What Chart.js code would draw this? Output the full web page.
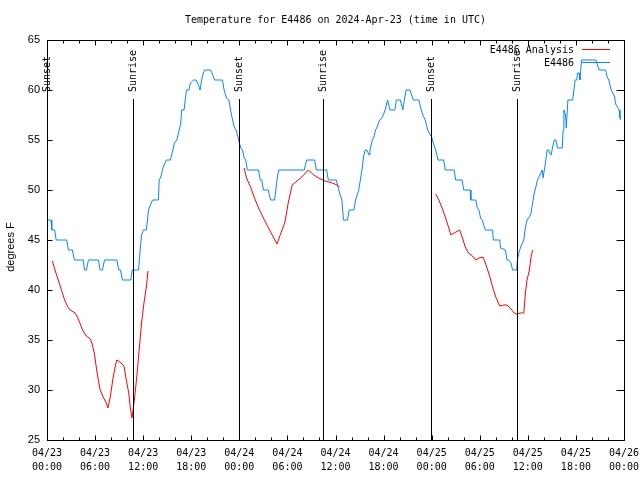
<!DOCTYPE html>
<html><head><meta charset="utf-8">
<script src="https://cdn.jsdelivr.net/npm/chart.js@4"></script>
<style>html,body{margin:0;padding:0;background:#fff}</style>
</head><body>
<canvas id="c" width="640" height="480"></canvas>
<script>
const titleText = "Temperature for E4486 on 2024-Apr-23 (time in UTC)";
const yTitle = "degrees F";
const tickDays = ["04/23","04/23","04/23","04/23","04/24","04/24","04/24","04/24","04/25","04/25","04/25","04/25","04/26"];
const tickTimes = ["00:00","06:00","12:00","18:00","00:00","06:00","12:00","18:00","00:00","06:00","12:00","18:00","00:00"];
const seriesNames = ["E4486 Analysis", "E4486"];

// hours since 04/23 00:00 UTC
const obsHours = [0,0.5,0.6,0.95,1.15,2.46,2.67,3.17,3.42,4.54,4.67,4.92,5.17,6.42,6.63,6.92,7.17,8.71,8.96,9.17,9.42,10.46,10.63,11.42,11.63,11.8,12.04,12.4,12.54,12.67,12.9,13.17,13.9,14.0,14.2,14.5,14.9,15.4,15.7,15.9,16.2,16.5,16.7,16.8,17.1,17.4,17.7,17.9,18.3,18.6,18.9,19.1,19.3,19.5,19.7,20.4,20.6,20.9,21.9,22.1,22.4,22.7,22.9,23.1,23.4,23.6,23.8,24.0,24.2,24.4,24.6,24.8,25.0,26.4,26.6,26.8,27.0,27.6,27.9,28.4,28.7,28.9,32.1,32.4,33.4,33.6,34.9,35.1,36.1,36.4,36.6,36.8,37.0,37.5,37.7,38.3,38.5,38.9,39.1,39.3,39.5,39.7,39.9,40.2,40.3,40.6,40.8,41.0,41.2,41.5,41.8,42.2,42.5,42.8,43.4,43.6,44.1,44.4,44.8,45.3,45.7,46.4,46.7,46.9,47.2,47.5,47.7,48.0,48.1,48.4,48.5,48.8,49.5,49.7,50.8,51.0,51.8,52.0,52.8,52.9,53.5,53.7,53.9,54.1,54.3,54.5,54.7,55.6,55.7,56.5,56.6,57.2,57.4,57.6,57.9,58.1,58.6,58.7,58.9,59.2,59.5,59.7,59.9,60.2,60.4,60.6,60.8,61.0,61.2,61.5,61.8,61.9,62.2,62.4,62.6,62.7,62.9,63.1,63.3,63.5,63.7,64.3,64.4,64.5,64.7,64.8,65.0,65.6,65.7,65.9,66.1,66.2,66.4,66.5,66.7,68.5,68.6,68.9,69.7,69.9,70.1,70.4,70.6,70.8,71.0,71.2,71.4,71.5,71.6];
const obsTemps = [47,47,46,46,45,45,44,44,43,43,42,42,43,43,42,42,43,43,42,42,41,41,42,42,44,45.5,46,46,47,48,48.5,49,49,51,51.3,52.3,53,53,54,54.7,55,56,56.7,58,58,60,60,60.7,61,61,60.5,60,61,61.7,62,62,61.7,61,61,60,59.2,59,58,57.2,56.2,56,55.4,54.7,54.2,54,53.2,53,52,52,51,51,50,50,49,49,51,52,52,53,53,52,52,51,51,50,49.5,49,47,47,48,48,49,50,51,52,53.3,54,54,53.5,54,55,55.3,56,56.3,57,57.2,58,59,58,58,59,59,58,60,60,59,59,58,57.5,57,56,55.7,55.3,55,54.2,54,53,53,52,52,51,51,50,50,49,49,48.2,48,47.2,47,46.5,46,46,45,45,44.2,44,43,43,42.7,42,42,43,43.8,44.5,45,46.3,47,47.3,47.7,48.7,49.7,50.3,51,51.5,52,51.2,52.7,54,54,53.7,53.5,54.3,55,55,54.2,54.2,56,58,57.5,56.2,59,59,59.7,61,61,61.7,61.7,61,63,63,62.7,62,62,61.3,61,60,59.7,59.4,58.5,58.3,58,57.2,57];

const anaHours = [0.67,1.0,1.4,1.8,2.2,2.6,2.9,3.5,3.8,4.1,4.5,4.9,5.4,5.6,5.9,6.2,6.6,7.0,7.4,7.6,7.9,8.2,8.5,8.7,9.1,9.6,9.9,10.2,10.4,10.6,10.9,11.2,11.5,11.8,12.1,12.4,12.6,
  18.0,
  24.6,24.9,25.4,25.8,26.4,27.0,27.9,28.7,29.1,29.7,30.1,30.6,31.2,31.8,32.6,33.3,33.9,34.7,35.6,36.2,36.5,
  42.0,
  48.5,48.9,49.3,49.7,50.1,50.4,50.8,51.5,51.8,52.2,52.6,53.1,53.5,53.9,54.4,54.7,55.2,55.6,56.0,56.5,57.0,57.4,57.8,58.3,58.6,59.1,59.5,59.7,59.9,60.2,60.4,60.6];
const anaTemps = [42.9,42,41,40,39,38.3,38,37.7,37.3,36.7,35.9,35.4,35.1,34.7,33.7,32,30.1,29.3,28.7,28.2,29.3,31,32.3,33,32.8,32.4,31,29.7,28.2,27.2,29,31.3,34,36.7,38.7,40.3,41.9,
  null,
  52.2,51.2,50.3,49.4,48.2,47.2,45.8,44.6,45.5,46.8,48.7,50.5,50.9,51.3,52,51.5,51.2,50.9,50.7,50.5,50.3,
  null,
  49.6,49,48.2,47.3,46.3,45.5,45.7,46,45.3,44.3,43.7,43.4,43,43.2,43.3,42.7,41.5,40.3,39.3,38.4,38.5,38.5,38.2,37.7,37.6,37.7,37.7,39.7,41,42,43.3,44];

const sunHours = [0, 10.67, 23.9, 34.5, 47.96, 58.6];
const sunLabels = ["Sunset","Sunrise","Sunset","Sunrise","Sunset","Sunrise"];

const colors = ["#ff0000", "#0a84ff"];
const MONO = '"DejaVu Sans Mono", monospace';
const SANS = '"Liberation Sans", Arial, sans-serif';

const decor = {
  id: 'decor',
  afterDatasetsDraw(chart) {
    const {ctx, chartArea: a, scales: {x, y}} = chart;
    ctx.save();
    ctx.strokeStyle = '#000';
    ctx.fillStyle = '#000';
    ctx.lineWidth = 1;
    const L = Math.round(a.left) + 0.5, R = Math.round(a.right) + 0.5;
    const T = Math.round(a.top) + 0.5, B = Math.round(a.bottom) + 0.5;
    // title centred over the plot area
    ctx.font = '10px ' + MONO;
    ctx.textAlign = 'center'; ctx.textBaseline = 'middle';
    ctx.fillText(titleText, (a.left + a.right) / 2, 20);
    // sunrise / sunset markers
    sunHours.forEach((h, i) => {
      const px = Math.round(x.getPixelForValue(h)) + 0.5;
      ctx.beginPath(); ctx.moveTo(px, 99); ctx.lineTo(px, B); ctx.stroke();
      ctx.save();
      ctx.translate(px, 92);
      ctx.rotate(-Math.PI / 2);
      ctx.textAlign = 'left'; ctx.textBaseline = 'middle';
      ctx.fillText(sunLabels[i], 0, 0);
      ctx.restore();
    });
    // frame
    ctx.beginPath();
    ctx.rect(L, T, R - L, B - T);
    ctx.stroke();
    // x tick marks (inward, mirrored)
    ctx.beginPath();
    for (let h = 0; h <= 72; h += 2) {
      const px = Math.round(x.getPixelForValue(h)) + 0.5;
      const len = (h % 6 === 0) ? 5 : 3;
      ctx.moveTo(px, B); ctx.lineTo(px, B - len);
      ctx.moveTo(px, T); ctx.lineTo(px, T + len);
    }
    // y tick marks
    y.ticks.forEach(t => {
      const py = Math.round(y.getPixelForValue(t.value)) + 0.5;
      ctx.moveTo(L, py); ctx.lineTo(L + 5, py);
      ctx.moveTo(R, py); ctx.lineTo(R - 8, py);
    });
    ctx.stroke();
    // legend (top right, inside)
    ctx.font = '10px ' + MONO;
    ctx.textAlign = 'right'; ctx.textBaseline = 'middle';
    chart.data.datasets.forEach((ds, i) => {
      const ly = 50 + i * 13;
      ctx.fillStyle = '#000';
      ctx.fillText(ds.label, 574, ly);
      ctx.strokeStyle = ds.borderColor;
      ctx.beginPath(); ctx.moveTo(582, ly - 0.5); ctx.lineTo(610, ly - 0.5); ctx.stroke();
    });
    // y axis title
    ctx.fillStyle = '#000';
    ctx.font = '11px ' + SANS;
    ctx.save();
    ctx.translate(11, 247);
    ctx.rotate(-Math.PI / 2);
    ctx.textAlign = 'center'; ctx.textBaseline = 'middle';
    ctx.fillText(yTitle, 0, 0);
    ctx.restore();
    ctx.restore();
  }
};

new Chart(document.getElementById('c'), {
  type: 'line',
  data: {
    datasets: [
      { label: seriesNames[0], data: anaHours.map((h, i) => ({x: h, y: anaTemps[i]})),
        borderColor: colors[0], borderWidth: 1, pointRadius: 0, tension: 0, spanGaps: false, fill: false },
      { label: seriesNames[1], data: obsHours.map((h, i) => ({x: h, y: obsTemps[i]})),
        borderColor: colors[1], borderWidth: 1, pointRadius: 0, tension: 0, spanGaps: false, fill: false }
    ]
  },
  options: {
    responsive: false,
    animation: false,
    devicePixelRatio: 1,
    layout: { padding: { left: 0, right: 16, top: 40, bottom: 0 } },
    plugins: {
      legend: { display: false },
      tooltip: { enabled: false },
      title: { display: false }
    },
    scales: {
      x: {
        type: 'linear', min: 0, max: 72,
        grid: { display: false, drawTicks: false },
        border: { display: false },
        ticks: {
          stepSize: 2, autoSkip: false, maxRotation: 0, minRotation: 0,
          color: '#000', padding: 6,
          font: { family: MONO, size: 10, lineHeight: 1.4 },
          callback: (v) => (v % 6 === 0) ? [tickDays[v / 6], tickTimes[v / 6]] : ''
        },
        afterFit: (s) => { s.height = 40; s.paddingRight = 0; s.paddingLeft = 0; }
      },
      y: {
        min: 25, max: 65,
        grid: { display: false, drawTicks: false },
        border: { display: false },
        ticks: { stepSize: 5, color: '#000', padding: 7, font: { family: SANS, size: 11 } },
        afterFit: (s) => { s.width = 47; s.paddingTop = 0; s.paddingBottom = 0; }
      }
    }
  },
  plugins: [decor]
});
</script>
</body></html>
